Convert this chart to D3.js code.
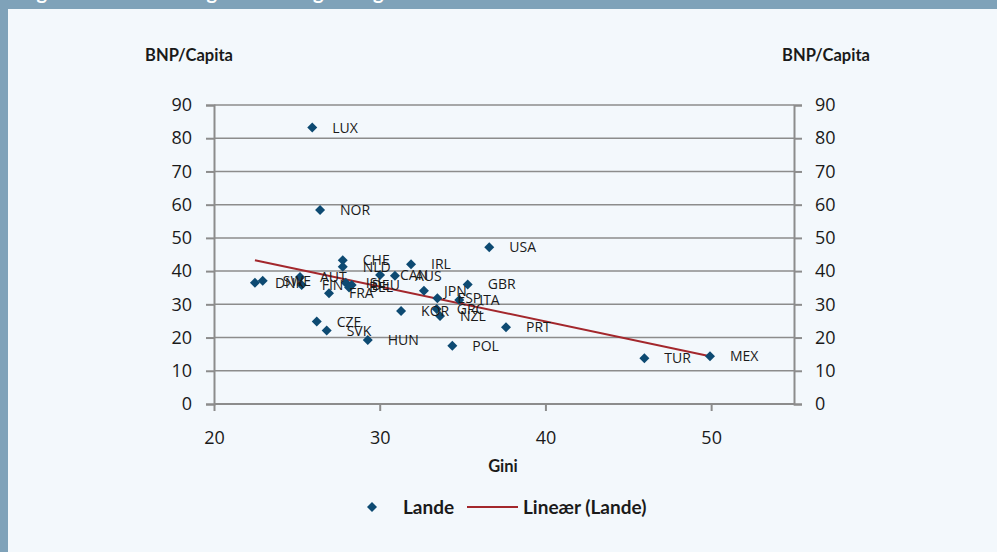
<!DOCTYPE html>
<html>
<head>
<meta charset="utf-8">
<script src="https://cdn.jsdelivr.net/npm/d3@7"></script>
<style>
  html, body { margin:0; padding:0; background:#f3f8fc; }
  svg { display:block; }
</style>
</head>
<body>
<svg id="chart" width="997" height="552"></svg>
<script>
// ---- data ----
const countries = ["LUX","NOR","USA","CHE","NLD","IRL","CAN","AUS","JPN","DNK","SWE","AUT","FIN","FRA","ISL","DEU","BEL","GBR","ESP","ITA","GRC","NZL","KOR","PRT","POL","HUN","CZE","SVK","TUR","MEX"];
const gini = [25.93,26.40,36.61,27.77,27.77,31.89,30.02,30.92,32.67,22.47,22.94,25.19,25.29,26.94,27.95,28.31,28.15,35.31,33.48,34.80,33.44,33.64,31.29,37.62,34.38,29.28,26.20,26.80,45.97,49.93];
const gdp  = [83.2,58.4,47.2,43.3,41.3,42.1,38.8,38.6,34.1,36.5,37.1,38.2,35.8,33.3,36.5,35.8,35.1,36.0,31.8,31.3,28.6,26.5,28.0,23.1,17.5,19.3,24.8,22.1,13.8,14.4];
const trendX = [22.47, 49.93];
const trendY = [43.3, 14.4];
const xTicks = [20,30,40,50];
const yTicks = [0,10,20,30,40,50,60,70,80,90];
const yLabel = "BNP/Capita";
const xLabel = "Gini";
const legendLabels = ["Lande","Lineær (Lande)"];
const title = "Figur 1. Sammenhæng mellem ulighed og velstand i OECD-landene";

// ---- layout ----
const svg = d3.select("#chart");
const W = 997, H = 552;
const x = d3.scaleLinear().domain([20,55]).range([214,794]);
const y = d3.scaleLinear().domain([0,90]).range([404,105]);
const gridCol = "#8c8c8c";
const dotCol = "#0d4a72";
const lineCol = "#a3272c";
const tickFont = "'Open Sans', sans-serif";
const boldFont = "Lato, 'Open Sans', sans-serif";

svg.append("rect").attr("width",W).attr("height",H).attr("fill","#f3f8fc");
// header bar and left frame
svg.append("rect").attr("x",0).attr("y",0).attr("width",W).attr("height",9).attr("fill","#7fa2b9");
svg.append("rect").attr("x",0).attr("y",0).attr("width",8).attr("height",H).attr("fill","#7fa2b9");
svg.append("text").attr("x",20).attr("y",-1).attr("fill","#ffffff")
  .style("font-family",boldFont).style("font-weight","bold").style("font-size","20px").text(title);

// gridlines
svg.append("g").selectAll("line").data(yTicks.filter(d=>d>0)).join("line")
  .attr("x1",x(20)).attr("x2",x(55)).attr("y1",d=>y(d)).attr("y2",d=>y(d))
  .attr("stroke",gridCol).attr("stroke-width",1.5);

// left axis
const yAxisL = d3.axisLeft(y).tickValues(yTicks).tickSize(8).tickPadding(14).tickFormat(d3.format("d"));
const gL = svg.append("g").attr("transform",`translate(${x(20)},0)`).call(yAxisL);
// right axis
const yAxisR = d3.axisRight(y).tickValues(yTicks).tickSize(8).tickPadding(13).tickFormat(d3.format("d"));
const gR = svg.append("g").attr("transform",`translate(${x(55)},0)`).call(yAxisR);
// bottom axis
const xAxis = d3.axisBottom(x).tickValues(xTicks).tickSize(7).tickPadding(20).tickFormat(d3.format("d"));
const gB = svg.append("g").attr("transform",`translate(0,${y(0)})`).call(xAxis);

[gL,gR,gB].forEach(g=>{
  g.select(".domain").attr("stroke",gridCol).attr("stroke-width",2);
  g.selectAll(".tick line").attr("stroke",gridCol).attr("stroke-width",2);
  g.selectAll(".tick text").attr("fill","#1a1a1a").style("font-family",tickFont).style("font-size","18px");
});
gB.select(".domain").attr("d",`M${x(20)},0H${x(55)}`);

// axis titles
svg.append("text").attr("x",189).attr("y",61).attr("text-anchor","middle")
  .style("font-family",boldFont).style("font-weight","bold").style("font-size","16.5px").attr("fill","#1a1a1a").text(yLabel);
svg.append("text").attr("x",826).attr("y",61).attr("text-anchor","middle")
  .style("font-family",boldFont).style("font-weight","bold").style("font-size","16.5px").attr("fill","#1a1a1a").text(yLabel);
svg.append("text").attr("x",503).attr("y",472).attr("text-anchor","middle")
  .style("font-family",boldFont).style("font-weight","bold").style("font-size","16.5px").attr("fill","#1a1a1a").text(xLabel);

// trend line
const trend = trendX.map((v,i)=>[v,trendY[i]]);
svg.append("path").datum(trend)
  .attr("d",d3.line().x(d=>x(d[0])).y(d=>y(d[1])))
  .attr("fill","none").attr("stroke",lineCol).attr("stroke-width",2);

// points
const pts = countries.map((c,i)=>({c, gx:gini[i], gy:gdp[i]}));
const diamond = "M0,-5L5,0L0,5L-5,0Z";
svg.append("g").selectAll("path").data(pts).join("path")
  .attr("d",diamond).attr("transform",d=>`translate(${x(d.gx)},${y(d.gy)})`)
  .attr("fill",dotCol);

// labels
svg.append("g").selectAll("text").data(pts).join("text")
  .attr("x",d=>x(d.gx)+20).attr("y",d=>y(d.gy)+5)
  .style("font-family","'Open Sans', sans-serif").style("font-size","14px").attr("fill","#1a1a1a")
  .text(d=>d.c);

// legend
const ly = 507;
svg.append("path").attr("d",diamond).attr("transform",`translate(372,${ly})`).attr("fill",dotCol);
svg.append("text").attr("x",403).attr("y",ly+7)
  .style("font-family",boldFont).style("font-weight","bold").style("font-size","19px").attr("fill","#1a1a1a").text(legendLabels[0]);
svg.append("line").attr("x1",467).attr("x2",518).attr("y1",ly).attr("y2",ly).attr("stroke",lineCol).attr("stroke-width",2);
svg.append("text").attr("x",523).attr("y",ly+7)
  .style("font-family",boldFont).style("font-weight","bold").style("font-size","19px").attr("fill","#1a1a1a").text(legendLabels[1]);
</script>
</body>
</html>
